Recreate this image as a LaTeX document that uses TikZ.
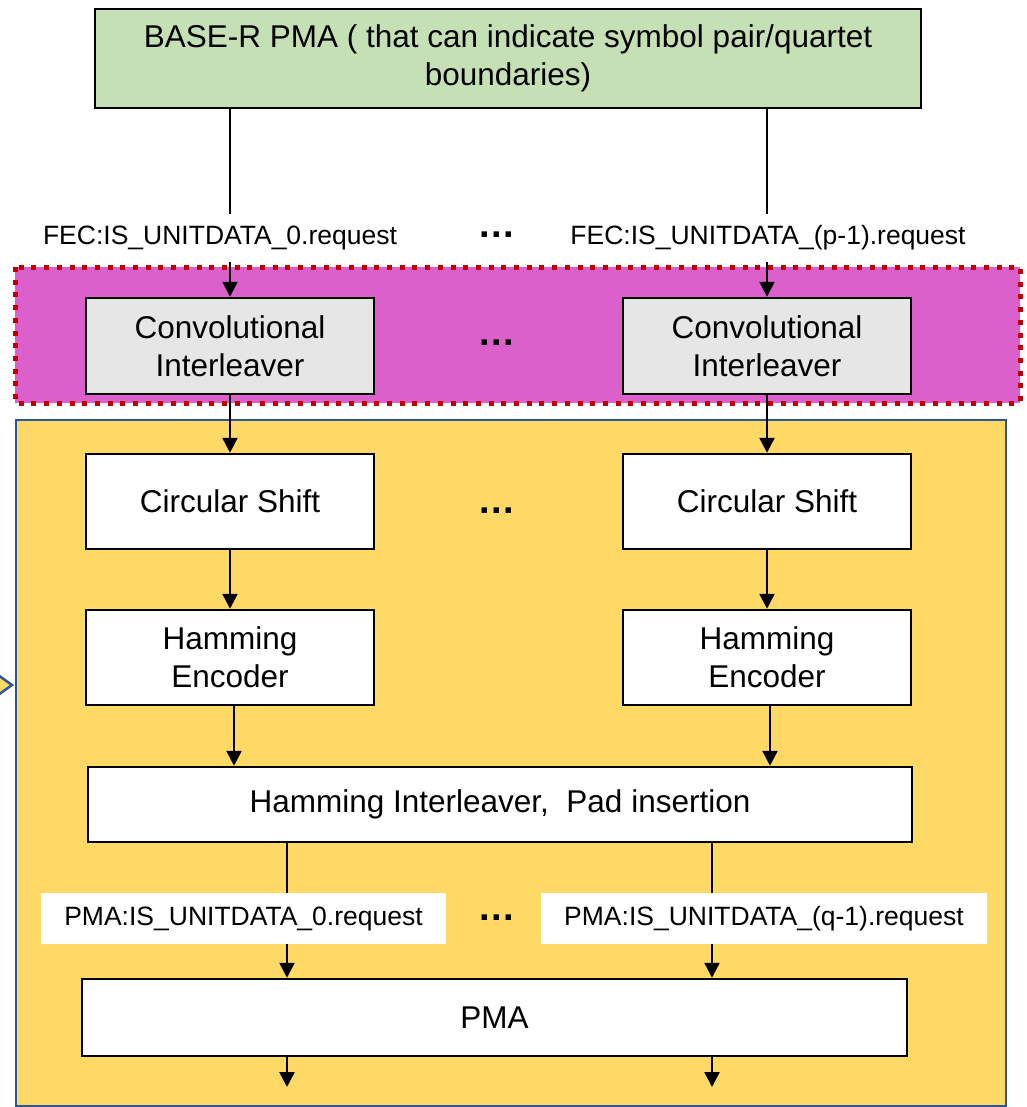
\documentclass[tikz,border=0pt]{standalone}
\usepackage{fontspec}
\setmainfont{Liberation Sans}
\usetikzlibrary{arrows.meta}
\definecolor{bodygreen}{RGB}{197,224,180}
\definecolor{cigrey}{RGB}{230,230,230}
\definecolor{layermag}{RGB}{219,96,204}
\definecolor{dotred}{RGB}{192,0,0}
\definecolor{layeryel}{RGB}{255,217,102}
\definecolor{layerblue}{RGB}{47,85,151}
\begin{document}
\begin{tikzpicture}[x=1pt,y=-1pt,
  bigtext/.style={font=\fontsize{31.5}{38}\selectfont},
  smalltext/.style={font=\fontsize{26.5}{31}\selectfont},
  blockbox/.style={draw=black, line width=2.5pt, fill=white, align=center,
    bigtext, inner sep=0pt},
  colbox/.style={blockbox, minimum width=288pt, minimum height=95pt},
  arr/.style={line width=2.5pt, -{Triangle[width=15pt,length=15pt]}},
  gap/.style={font=\fontsize{38}{40}\selectfont\bfseries, inner sep=0pt}]
\useasboundingbox (0,0) rectangle (1026,1107);

% coloured layer backgrounds
\fill[layeryel] (-30,655) -- (12,685) -- (-30,715) -- cycle;
\draw[layerblue, line width=2.5pt] (-30,655) -- (12,685) -- (-30,715);
\draw[layerblue, line width=2.5pt, fill=layeryel] (16,420) rectangle (1006,1106);
\fill[layermag] (15,267) rectangle (1020,403);
\draw[dotred, line width=5pt, dash pattern=on 5pt off 7.7pt] (15,267) rectangle (1020,403);

% blocks
\node[blockbox, fill=bodygreen, minimum width=826pt, minimum height=99pt]
  (top) at (508,58.5) {BASE-R PMA ( that can indicate symbol pair/quartet\\boundaries)};
\node[colbox, fill=cigrey, minimum height=96pt] (ciL) at (230,346) {Convolutional\\Interleaver};
\node[colbox, fill=cigrey, minimum height=96pt] (ciR) at (767,346) {Convolutional\\Interleaver};
\node[colbox] (csL) at (230,501.5) {Circular Shift};
\node[colbox] (csR) at (767,501.5) {Circular Shift};
\node[colbox] (heL) at (230,657.5) {Hamming\\Encoder};
\node[colbox] (heR) at (767,657.5) {Hamming\\Encoder};
\node[blockbox, minimum width=824pt, minimum height=75pt] (hi) at (500,804.5)
  {Hamming Interleaver,\ \ Pad insertion};
\node[blockbox, minimum width=825pt, minimum height=77pt] (pma) at (494.5,1017.5) {PMA};

% lane columns and loose ends
\coordinate (c0) at (287,0);
\coordinate (c1) at (712,0);
\coordinate (o0) at (287,1087);
\coordinate (o1) at (712,1087);

% connectors
\draw[arr] (top.south -| ciL) -- (ciL.north);
\draw[arr] (top.south -| ciR) -- (ciR.north);
\draw[arr] (ciL.south) -- (csL.north);
\draw[arr] (ciR.south) -- (csR.north);
\draw[arr] (csL.south) -- (heL.north);
\draw[arr] (csR.south) -- (heR.north);
\draw[arr] ([xshift=4pt]heL.south) -- ([xshift=4pt]heL.south |- hi.north);
\draw[arr] ([xshift=3pt]heR.south) -- ([xshift=3pt]heR.south |- hi.north);
\draw[arr] (hi.south -| c0) -- (pma.north -| c0);
\draw[arr] (hi.south -| c1) -- (pma.north -| c1);
\draw[arr] (pma.south -| c0) -- (o0);
\draw[arr] (pma.south -| c1) -- (o1);

% service interface labels
\node[smalltext, fill=white, inner xsep=2pt, inner ysep=12pt] (fecL) at (220,238)
  {FEC:IS\_UNITDATA\_0.request};
\node[smalltext, fill=white, inner xsep=2pt, inner ysep=12pt] (fecR) at (768,238)
  {FEC:IS\_UNITDATA\_(p-1).request};
\node[smalltext, fill=white, minimum width=405pt, minimum height=51pt, inner sep=0pt]
  (pmaL) at (243.5,918.5) {PMA:IS\_UNITDATA\_0.request};
\node[smalltext, fill=white, minimum width=446pt, minimum height=51pt, inner sep=0pt]
  (pmaR) at (764,918.5) {PMA:IS\_UNITDATA\_(q-1).request};

% lane ellipses
\node[gap] (g1) at (497,235) {.\kern1.4pt.\kern1.4pt.};
\node[gap] (g2) at (497,343) {.\kern1.4pt.\kern1.4pt.};
\node[gap] (g3) at (497,511) {.\kern1.4pt.\kern1.4pt.};
\node[gap] (g4) at (497,918) {.\kern1.4pt.\kern1.4pt.};
\end{tikzpicture}
\end{document}
